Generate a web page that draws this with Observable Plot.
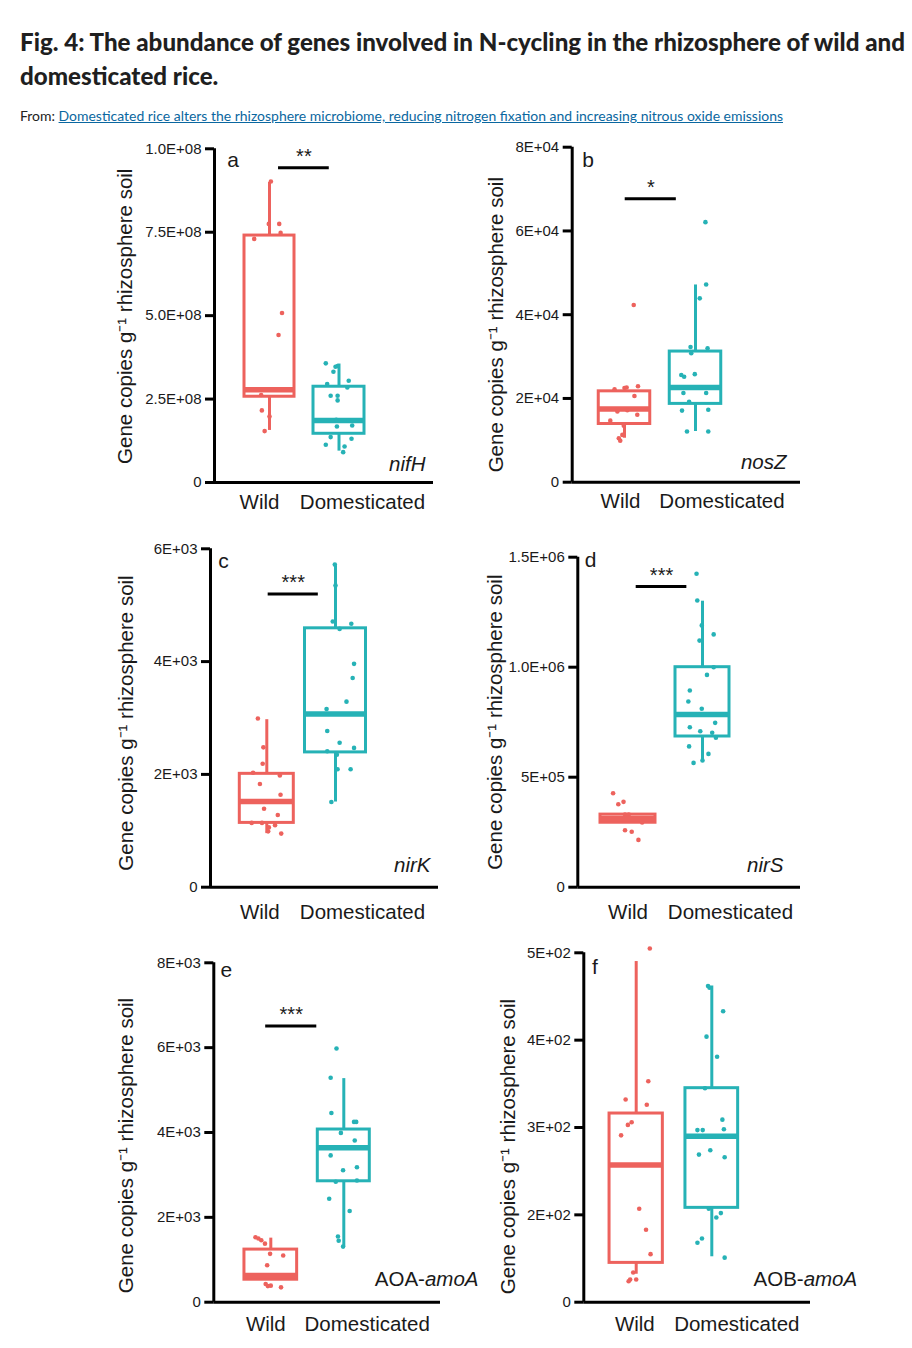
<!DOCTYPE html>
<html><head><meta charset="utf-8">
<script src="https://cdn.jsdelivr.net/npm/d3@7"></script>
<script src="https://cdn.jsdelivr.net/npm/@observablehq/plot@0.6"></script>
<style>
html,body{margin:0;padding:0;background:#fff;}
body{width:912px;height:1348px;position:relative;overflow:hidden;font-family:"Liberation Sans",Arial,sans-serif;}
#title{position:absolute;left:20px;top:24px;font-family:Lato,"Open Sans",sans-serif;font-weight:900;font-size:25px;line-height:34px;color:#1f1f1f;white-space:nowrap;}
#title .line{display:block;width:max-content;transform-origin:0 50%;}
#from{position:absolute;left:20px;top:108px;font-family:Lato,"Open Sans",sans-serif;font-size:13.5px;color:#222;white-space:nowrap;width:max-content;transform-origin:0 50%;}
#from a{color:#0a67a0;text-decoration:underline;}
.panel{position:absolute;}
</style></head>
<body>
<div id="title"><span class="line" id="t1">Fig. 4: The abundance of genes involved in N-cycling in the rhizosphere of wild and</span><span class="line" id="t2">domesticated rice.</span></div>
<div id="from">From: <a href="#">Domesticated rice alters the rhizosphere microbiome, reducing nitrogen fixation and increasing nitrous oxide emissions</a></div>
<div id="charts"></div>
<script>
// ---------------- DATA ----------------
const groups = ["Wild", "Domesticated"];
const groupColors = ["#ED625D", "#26B2B6"];
const yTitle = "Gene copies g\u207B\u00B9 rhizosphere soil";
const panelLetters = ["a", "b", "c", "d", "e", "f"];
const genePrefix = ["", "", "", "", "AOA-", "AOB-"];
const geneItalic = ["nifH", "nosZ", "nirK", "nirS", "amoA", "amoA"];
const sigStars = ["**", "*", "***", "***", "***", ""];

// a: nifH
const nifH_ticks = [0, 2.5e8, 5e8, 7.5e8, 1e9];
const nifH_tickLabels = ["0", "2.5E+08", "5.0E+08", "7.5E+08", "1.0E+08"];
const nifH_wild = [9.02e8, 7.75e8, 7.75e8, 7.48e8, 7.30e8, 5.08e8, 4.42e8, 2.62e8, 2.16e8, 1.98e8, 1.54e8];
const nifH_wildJitter = [0.02, -0.01, 0.14, 0.16, -0.22, 0.18, 0.13, -0.12, -0.11, 0.0, -0.07];
const nifH_dom = [3.57e8, 3.47e8, 3.49e8, 3.32e8, 3.05e8, 2.95e8, 2.85e8, 2.60e8, 2.60e8, 2.46e8, 1.88e8, 1.86e8, 1.68e8, 1.71e8, 1.36e8, 1.31e8, 1.13e8, 1.08e8, 0.91e8];
const nifH_domJitter = [-0.19, -0.05, -0.02, -0.08, 0.14, -0.17, 0.12, -0.12, -0.02, -0.02, -0.04, 0.14, -0.03, 0.19, -0.12, 0.18, -0.19, 0.08, 0.06];
const nifH_stats = [[1.56e8, 2.57e8, 2.78e8, 7.40e8, 8.99e8], [0.94e8, 1.46e8, 1.86e8, 2.87e8, 3.55e8]]; // lo,q1,med,q3,hi
const nifH_sig = [1.13, 1.86, 9.43e8];

// b: nosZ
const nosZ_ticks = [0, 2e4, 4e4, 6e4, 8e4];
const nosZ_tickLabels = ["0", "2E+04", "4E+04", "6E+04", "8E+04"];
const nosZ_wild = [4.23e4, 2.22e4, 2.25e4, 2.26e4, 2.29e4, 2.06e4, 1.69e4, 1.72e4, 1.61e4, 1.47e4, 1.35e4, 1.13e4, 1.05e4, 0.99e4];
const nosZ_wildJitter = [0.13, -0.14, 0.0, 0.03, 0.19, 0.14, -0.10, 0.04, 0.18, -0.20, -0.01, -0.03, -0.08, -0.06];
const nosZ_dom = [6.21e4, 4.72e4, 4.39e4, 3.23e4, 3.20e4, 3.08e4, 2.56e4, 2.52e4, 2.58e4, 2.26e4, 2.13e4, 2.13e4, 1.92e4, 1.71e4, 1.73e4, 1.21e4, 1.21e4];
const nosZ_domJitter = [0.14, 0.15, 0.06, -0.07, 0.17, -0.06, -0.20, -0.16, -0.01, 0.07, -0.17, 0.15, -0.09, -0.19, 0.18, -0.12, 0.18];
const nosZ_stats = [[1.05e4, 1.39e4, 1.75e4, 2.17e4, 2.17e4], [1.21e4, 1.87e4, 2.26e4, 3.12e4, 4.71e4]];
const nosZ_sig = [1.01, 1.73, 6.77e4];

// c: nirK
const nirK_ticks = [0, 2e3, 4e3, 6e3];
const nirK_tickLabels = ["0", "2E+03", "4E+03", "6E+03"];
const nirK_wild = [2.99e3, 2.48e3, 2.19e3, 2.03e3, 1.98e3, 1.83e3, 1.64e3, 1.39e3, 1.28e3, 1.14e3, 1.14e3, 1.06e3, 1.10e3, 0.99e3, 0.95e3];
const nirK_wildJitter = [-0.13, -0.05, -0.06, -0.20, 0.19, -0.10, 0.20, -0.04, 0.16, -0.22, -0.07, 0.03, 0.12, 0.02, 0.21];
const nirK_dom = [5.72e3, 5.35e3, 4.71e3, 4.58e3, 4.67e3, 3.96e3, 3.71e3, 3.29e3, 3.16e3, 2.77e3, 2.56e3, 2.41e3, 2.47e3, 2.35e3, 2.09e3, 2.09e3, 1.51e3];
const nirK_domJitter = [-0.01, 0.0, -0.04, 0.06, 0.23, 0.27, 0.25, 0.16, -0.13, -0.12, 0.06, -0.12, 0.27, 0.02, 0.03, 0.22, -0.06];
const nirK_stats = [[0.95e3, 1.14e3, 1.52e3, 2.01e3, 2.97e3], [1.51e3, 2.39e3, 3.07e3, 4.59e3, 5.70e3]];
const nirK_sig = [1.02, 1.75, 5.20e3];

// d: nirS
const nirS_ticks = [0, 5e5, 1e6, 1.5e6];
const nirS_tickLabels = ["0", "5E+05", "1.0E+06", "1.5E+06"];
const nirS_wild = [4.27e5, 3.77e5, 3.88e5, 3.30e5, 3.30e5, 2.94e5, 2.59e5, 2.52e5, 2.15e5];
const nirS_wildJitter = [-0.20, -0.13, -0.06, -0.04, 0.01, 0.19, -0.04, 0.05, 0.14];
const nirS_dom = [14.25e5, 13.03e5, 11.9e5, 11.49e5, 11.21e5, 10.0e5, 9.65e5, 8.94e5, 8.44e5, 8.11e5, 7.47e5, 7.27e5, 7.09e5, 7.02e5, 6.79e5, 6.40e5, 6.06e5, 5.76e5, 5.65e5];
const nirS_domJitter = [-0.08, -0.07, -0.01, 0.15, -0.04, 0.15, 0.06, -0.17, -0.19, -0.01, 0.17, -0.17, -0.03, 0.13, 0.18, -0.18, 0.08, 0.0, -0.12];
const nirS_stats = [[2.93e5, 2.93e5, 3.12e5, 3.30e5, 3.30e5], [5.68e5, 6.85e5, 7.85e5, 10.0e5, 13.0e5]];
const nirS_sig = [1.11, 1.79, 1.367e6];

// e: AOA-amoA
const aoa_ticks = [0, 2e3, 4e3, 6e3, 8e3];
const aoa_tickLabels = ["0", "2E+03", "4E+03", "6E+03", "8E+03"];
const aoa_wild = [1.53e3, 1.50e3, 1.46e3, 1.38e3, 1.14e3, 1.10e3, 0.87e3, 0.43e3, 0.38e3, 0.39e3, 0.35e3];
const aoa_wildJitter = [-0.21, -0.17, -0.13, -0.08, -0.01, 0.17, -0.05, -0.07, -0.04, 0.0, 0.14];
const aoa_dom = [5.98e3, 5.29e3, 4.46e3, 4.25e3, 4.25e3, 3.99e3, 3.81e3, 3.46e3, 3.11e3, 3.18e3, 2.84e3, 2.87e3, 2.44e3, 2.15e3, 1.55e3, 1.45e3, 1.31e3];
const aoa_domJitter = [-0.10, -0.18, -0.17, 0.14, 0.17, -0.04, 0.15, -0.18, -0.01, 0.18, -0.11, 0.18, -0.20, 0.08, -0.08, -0.07, -0.01];
const aoa_stats = [[0.53e3, 0.53e3, 0.63e3, 1.24e3, 1.51e3], [1.30e3, 2.85e3, 3.64e3, 4.07e3, 5.27e3]];
const aoa_sig = [0.93, 1.63, 6.51e3];

// f: AOB-amoA (axis as printed: bottom tick labelled "0")
const aob_ticks = [100, 200, 300, 400, 500];
const aob_tickLabels = ["0", "2E+02", "3E+02", "4E+02", "5E+02"];
const aob_wild = [505, 353, 332, 326, 306, 303, 291, 207, 183, 155, 134, 126, 126, 124];
const aob_wildJitter = [0.18, 0.16, -0.14, 0.14, -0.06, -0.11, -0.20, 0.04, 0.13, 0.19, -0.04, -0.08, 0.0, -0.10];
const aob_dom = [462, 460, 433, 404, 381, 345, 309, 297, 297, 298, 274, 269, 266, 207, 202, 197, 173, 168, 151];
const aob_domJitter = [-0.05, -0.03, 0.15, -0.07, 0.07, -0.09, 0.14, -0.19, -0.12, 0.16, -0.02, -0.17, 0.17, -0.04, 0.12, 0.06, -0.13, -0.19, 0.17];
const aob_stats = [[132, 145, 257, 316, 490], [152, 208, 290, 345, 462]];
const aob_sig = null;

// ---------------- LAYOUT (page pixels) ----------------
const layouts = [
  {box:[90,130,380,400], axisX:214, xEnd:433, yTop:148.3, y0:482, cW:269, cD:338.5, boxW:[50,51], letter:[12.7,18.4], gene:[-8,-12], labDx:[-10,23.5], labDy:26.3, title:[-89.5,0.6]},
  {box:[470,130,400,400], axisX:571.7, xEnd:800, yTop:146.7, y0:481.7, cW:624, cD:695, boxW:[51.5,51.5], letter:[10,20], gene:[-14,-13], labDx:[-4,26.5], labDy:25.6, title:[-76.2,10]},
  {box:[90,535,380,400], axisX:210, xEnd:438, yTop:548.3, y0:886.7, cW:266.3, cD:335, boxW:[54,61], letter:[7.7,19], gene:[-8,-15.7], labDx:[-7,27], labDy:31.6, title:[-84.5,5]},
  {box:[470,535,400,400], axisX:577.3, xEnd:800, yTop:556.7, y0:886.7, cW:627.5, cD:702, boxW:[55,54], letter:[7,10], gene:[-17,-15.7], labDx:[0,28], labDy:31.6, title:[-82.8,0]},
  {box:[90,940,400,400], axisX:213.3, xEnd:440, yTop:962.3, y0:1301.7, cW:270.3, cD:343.3, boxW:[52.7,52], letter:[6.7,14.4], gene:[38,-16.7], labDx:[-5,23.4], labDy:29, title:[-87.8,13]},
  {box:[480,940,400,400], axisX:583.3, xEnd:810, yTop:952.3, y0:1301.7, cW:635.7, cD:711.3, boxW:[53.3,52.7], letter:[8.3,21], gene:[46.7,-16.7], labDx:[-1.4,25], labDy:29, title:[-75.3,19]}
];

const panelData = [
  {ticks:nifH_ticks, labels:nifH_tickLabels, wild:nifH_wild, wildJ:nifH_wildJitter, dom:nifH_dom, domJ:nifH_domJitter, stats:nifH_stats, sig:nifH_sig},
  {ticks:nosZ_ticks, labels:nosZ_tickLabels, wild:nosZ_wild, wildJ:nosZ_wildJitter, dom:nosZ_dom, domJ:nosZ_domJitter, stats:nosZ_stats, sig:nosZ_sig},
  {ticks:nirK_ticks, labels:nirK_tickLabels, wild:nirK_wild, wildJ:nirK_wildJitter, dom:nirK_dom, domJ:nirK_domJitter, stats:nirK_stats, sig:nirK_sig},
  {ticks:nirS_ticks, labels:nirS_tickLabels, wild:nirS_wild, wildJ:nirS_wildJitter, dom:nirS_dom, domJ:nirS_domJitter, stats:nirS_stats, sig:nirS_sig},
  {ticks:aoa_ticks, labels:aoa_tickLabels, wild:aoa_wild, wildJ:aoa_wildJitter, dom:aoa_dom, domJ:aoa_domJitter, stats:aoa_stats, sig:aoa_sig},
  {ticks:aob_ticks, labels:aob_tickLabels, wild:aob_wild, wildJ:aob_wildJitter, dom:aob_dom, domJ:aob_domJitter, stats:aob_stats, sig:aob_sig}
];

const FONT = '"Liberation Sans", Arial, sans-serif';
const ctx = document.createElement("canvas").getContext("2d");
function textWidth(s, font) { ctx.font = font; return ctx.measureText(s).width; }

function makePanel(k) {
  const L = layouts[k], D = panelData[k];
  const [sL, sT, W, H] = L.box;
  const span = L.cD - L.cW;
  const domain = [D.ticks[0], D.ticks[D.ticks.length - 1]];
  const axisXData = 1 + (L.axisX - L.cW) / span;
  const pts = [
    ...D.wild.map((v, i) => ({g: groups[0], x: 1 + D.wildJ[i], y: v})),
    ...D.dom.map((v, i) => ({g: groups[1], x: 2 + D.domJ[i], y: v}))
  ];
  const stats = groups.map((g, i) => {
    const s = D.stats[i];
    const hw = L.boxW[i] / 2 / span;
    return {g, x: i + 1, x1: i + 1 - hw, x2: i + 1 + hw, lo: s[0], q1: s[1], med: s[2], q3: s[3], hi: s[4]};
  });
  const fs = 20.5;
  const marks = [
    Plot.ruleX(stats, {x: "x", y1: "q3", y2: "hi", stroke: "g", strokeWidth: 3}),
    Plot.ruleX(stats, {x: "x", y1: "lo", y2: "q1", stroke: "g", strokeWidth: 3}),
    Plot.rect(stats, {x1: "x1", x2: "x2", y1: "q1", y2: "q3", fill: "white", stroke: "g", strokeWidth: 3}),
    Plot.ruleY(stats, {x1: "x1", x2: "x2", y: "med", stroke: "g", strokeWidth: 5.5}),
    Plot.dot(pts, {x: "x", y: "y", fill: "g", r: 2.3}),
    // axes
    Plot.ruleX([axisXData], {y1: domain[0], y2: domain[1], stroke: "black", strokeWidth: 3}),
    Plot.ruleY([domain[0]], {stroke: "black", strokeWidth: 3}),
    Plot.axisY({ticks: D.ticks, tickFormat: d => D.labels[D.ticks.indexOf(d)], tickSize: 9, tickPadding: 4, strokeWidth: 3, stroke: "black", fill: "#1a1a1a", fontSize: 15, label: null}),
    // category labels
    Plot.text(groups, {x: (d, i) => i + 1 + L.labDx[i] / span, y: () => domain[0], text: d => d, dy: L.labDy, lineAnchor: "bottom", fontSize: fs, fill: "#1a1a1a"}),
    // y title
    Plot.text([yTitle], {frameAnchor: "left", text: d => d, rotate: -90, textAnchor: "middle", lineAnchor: "middle", dx: L.title[0], dy: L.title[1], fontSize: fs, fill: "#1a1a1a"}),
    // panel letter
    Plot.text([panelLetters[k]], {frameAnchor: "top-left", text: d => d, textAnchor: "start", lineAnchor: "bottom", dx: L.letter[0], dy: L.letter[1], fontSize: 21, fill: "#1a1a1a"}),
    // gene label (italic part)
    Plot.text([geneItalic[k]], {frameAnchor: "bottom-right", text: d => d, textAnchor: "end", lineAnchor: "bottom", fontStyle: "italic", dx: L.gene[0], dy: L.gene[1], fontSize: fs, fill: "#1a1a1a"})
  ];
  if (genePrefix[k]) {
    const wItal = textWidth(geneItalic[k], `italic ${fs}px ${FONT}`);
    marks.push(Plot.text([genePrefix[k]], {frameAnchor: "bottom-right", text: d => d, textAnchor: "end", lineAnchor: "bottom", dx: L.gene[0] - wItal, dy: L.gene[1], fontSize: fs, fill: "#1a1a1a"}));
  }
  if (D.sig) {
    const [x1, x2, yv] = D.sig;
    marks.push(Plot.ruleY([yv], {x1: () => x1, x2: () => x2, stroke: "black", strokeWidth: 3}));
    marks.push(Plot.text([sigStars[k]], {x: () => (x1 + x2) / 2, y: () => yv, text: d => d, dy: -11, fontSize: 20, fill: "#1a1a1a"}));
  }
  const svg = Plot.plot({
    width: W, height: H,
    marginLeft: L.axisX - sL, marginRight: sL + W - L.xEnd,
    marginTop: L.yTop - sT, marginBottom: sT + H - L.y0,
    style: {background: "transparent", overflow: "visible", fontFamily: FONT},
    x: {type: "linear", domain: [1, 2], range: [L.cW - sL, L.cD - sL], axis: null},
    y: {type: "linear", domain, range: [L.y0 - sT, L.yTop - sT]},
    color: {domain: groups, range: groupColors},
    marks
  });
  svg.classList.add("panel");
  svg.style.left = sL + "px";
  svg.style.top = sT + "px";
  svg.style.maxWidth = "none";
  document.getElementById("charts").appendChild(svg);
}

for (let k = 0; k < 6; k++) makePanel(k);

// fit title lines to the reference widths
function fit(el, target) {
  const w = el.getBoundingClientRect().width;
  return target / w;
}
const t1 = document.getElementById("t1"), t2 = document.getElementById("t2");
const s = fit(t1, 885);
t1.style.transform = `scaleX(${s})`;
t2.style.transform = `scaleX(${s})`;
const from = document.getElementById("from");
const s2 = fit(from, 763);
from.style.transform = `scaleX(${s2})`;
</script>
</body></html>
